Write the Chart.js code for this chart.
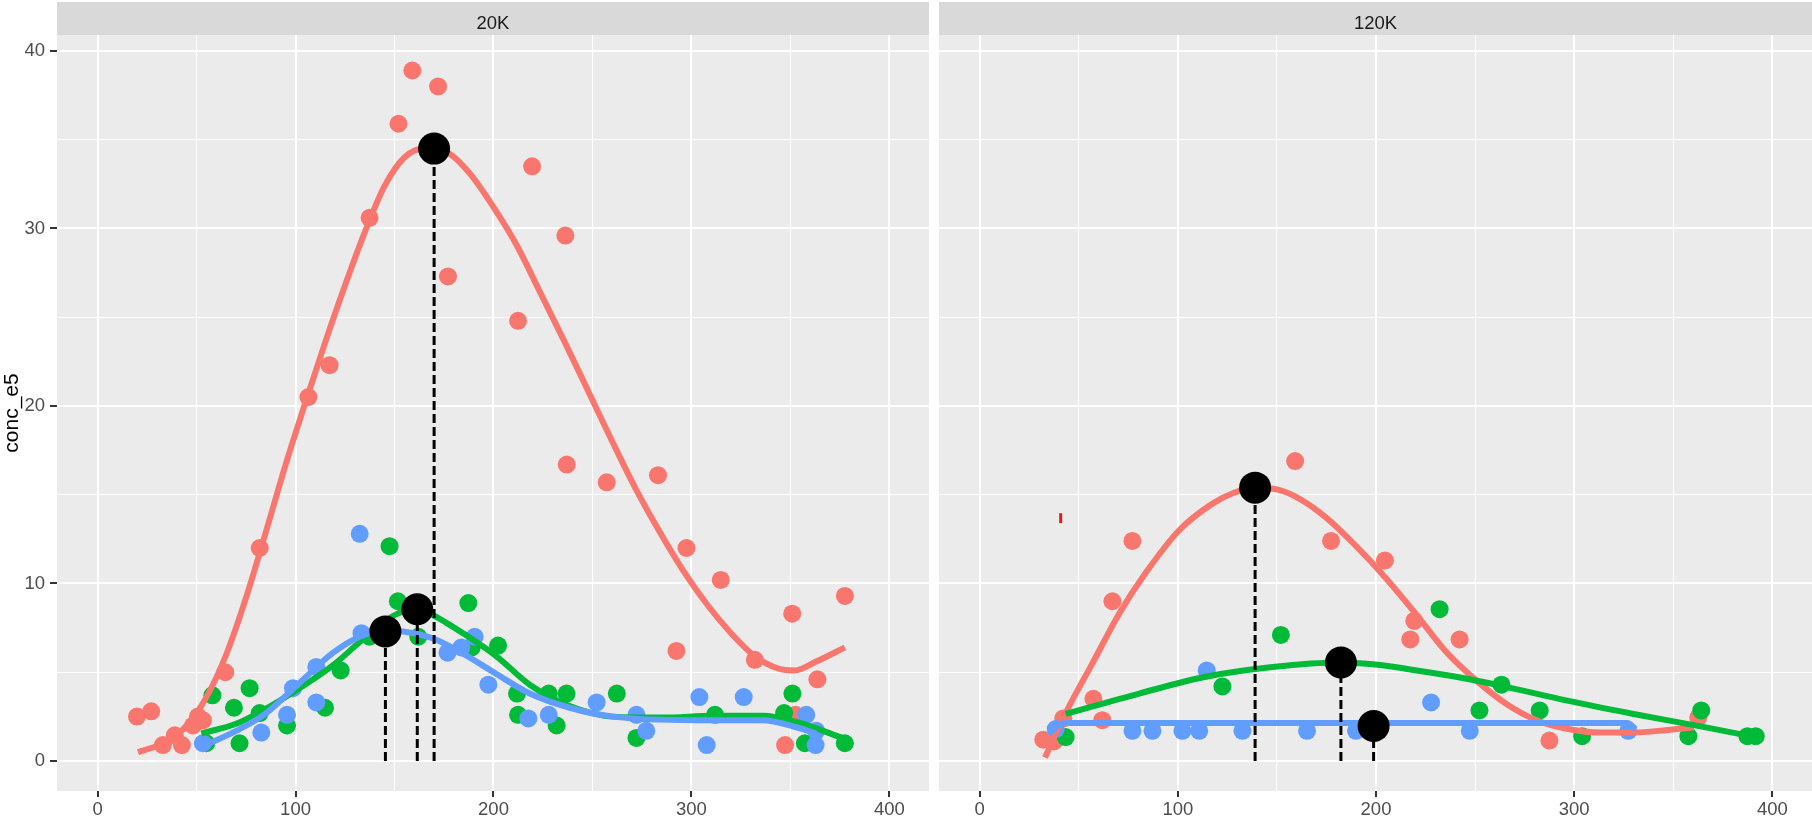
<!DOCTYPE html>
<html>
<head>
<meta charset="utf-8">
<script src="https://cdn.jsdelivr.net/npm/chart.js@4.4.1/dist/chart.umd.min.js"></script>
<style>
  body { margin: 0; background: #fff; }
  canvas { position: absolute; top: 0; }
  #left { left: 0; }
  #right { left: 939px; }
</style>
</head>
<body>
<canvas id="left" width="929" height="829" style="width:929px;height:829px"></canvas>
<canvas id="right" width="873" height="829" style="width:873px;height:829px"></canvas>
<script>
// facets and axis ticks
const panels = ['20K', '120K'];
const xMajor = [0, 100, 200, 300, 400];
const xMinor = [50, 150, 250, 350];
const yMajor = [0, 10, 20, 30, 40];
const yMinor = [5, 15, 25, 35];

// raw points, 20K panel  [x, conc_e5]
const red20K = [[19.9,2.5],[27.1,2.8],[33,0.9],[39,1.45],[42.6,0.9],[48.2,2.0],[50.7,2.5],[53.2,2.3],[64.5,5.0],[81.9,12.0],[106.5,20.5],[117.2,22.3],[137.4,30.6],[152,35.9],[159,38.9],[172,38.0],[177,27.3],[212.4,24.8],[219.5,33.5],[236.3,29.6],[237,16.7],[257.2,15.7],[283.1,16.1],[292.4,6.2],[297.5,12.0],[314.8,10.2],[332,5.7],[347.3,0.9],[350.9,8.3],[352.5,2.6],[363.6,4.6],[377.5,9.3]];
const green20K = [[54.9,1.0],[58,3.7],[68.9,3.0],[71.7,1.0],[76.8,4.1],[81.9,2.7],[95.7,2.0],[114.9,3.0],[122.8,5.1],[137.4,7.0],[147.5,12.1],[151.7,9.0],[162,7.0],[187.3,8.9],[189,6.4],[202.3,6.5],[211.9,3.8],[212.4,2.6],[227.9,3.8],[231.9,2.0],[236.9,3.8],[262.3,3.8],[272.2,1.3],[311.9,2.6],[346.8,2.7],[351,3.8],[357.3,1.0],[377.5,1.0]];
const blue20K = [[53.2,1.0],[82.7,1.6],[95.7,2.6],[98.7,4.1],[110.5,5.3],[110.5,3.3],[132.4,12.8],[133.3,7.2],[176.8,6.1],[183.8,6.4],[190.5,7.0],[197.4,4.3],[217.6,2.4],[227.9,2.6],[252.1,3.3],[272.2,2.6],[277.2,1.7],[304,3.6],[307.7,0.9],[326.4,3.6],[358,2.6],[362.7,0.9],[363,1.7]];

// smooth fits, 20K panel
const redFit20K = [[20.4,0.5],[35,1.1],[45,2.0],[55,3.6],[65,6.0],[75,9.2],[85,12.9],[95,16.7],[105,20.2],[115,23.6],[125,26.8],[135,29.8],[145,32.4],[155,34.0],[165,34.5],[170,34.5],[178,34.2],[188,33.1],[200,31.2],[212,29.0],[224,26.3],[236,23.6],[248,20.8],[260,18.0],[272,15.3],[284,12.9],[296,10.7],[308,8.8],[320,7.2],[332,5.9],[344,5.2],[352,5.1],[363,5.6],[377.5,6.4]];
const greenFit20K = [[52.4,1.55],[70,2.1],[83.5,2.85],[102,4.1],[119,5.4],[132.4,6.7],[144.2,7.8],[152.6,8.35],[161.5,8.55],[168,8.3],[176,7.8],[184.6,7.2],[201.5,5.9],[218.3,4.3],[238.5,3.1],[260.4,2.5],[285.7,2.45],[311,2.55],[336,2.55],[353,2.2],[377.5,1.25]];
const blueFit20K = [[52.4,0.8],[70,1.7],[85.2,2.7],[102,4.4],[119,6.1],[132.4,7.0],[145.4,7.35],[154.3,7.3],[169.5,6.9],[184.6,6.05],[201.5,4.9],[218.3,3.8],[238.5,3.0],[260.4,2.5],[302.5,2.3],[336,2.3],[353,1.9],[363,1.55]];
const peaks20K = [[145.4,7.3],[161.5,8.55],[170,34.5]];

// raw points, 120K panel
const red120K = [[32.1,1.2],[37.5,1.1],[42.2,2.4],[57.4,3.5],[61.9,2.3],[67,9.0],[77.1,12.4],[159.2,16.9],[177.3,12.4],[204.5,11.3],[217.3,6.85],[219.3,7.9],[242.2,6.85],[287.5,1.15],[362.6,2.45]];
const green120K = [[43.4,1.35],[122.5,4.2],[152,7.1],[232.1,8.55],[252.2,2.85],[263.3,4.3],[282.6,2.85],[304,1.4],[357.6,1.4],[364.1,2.85],[387.4,1.4],[391.6,1.4]];
const blue120K = [[38.4,1.8],[77.1,1.7],[87.2,1.7],[102.3,1.7],[110.8,1.7],[114.6,5.1],[132.6,1.7],[165.2,1.7],[189.9,1.7],[227.8,3.3],[247.3,1.7],[327.3,1.7]];

// smooth fits, 120K panel
const redFit120K = [[33,0.2],[43.4,2.7],[56.9,5.5],[70.4,8.3],[83.8,10.6],[100.7,13.0],[117.5,14.5],[128,15.1],[139,15.4],[150,15.3],[161,14.8],[175,13.7],[190,12.1],[205,10.3],[220,8.3],[235,6.2],[251,4.5],[266,3.2],[281,2.3],[297,1.8],[313,1.6],[330,1.6],[347,1.75],[360.4,1.9]];
const greenFit120K = [[43.4,2.65],[80.5,3.8],[114,4.75],[147.8,5.3],[182.3,5.55],[198.3,5.45],[215,5.2],[237.5,4.8],[262.8,4.25],[296.5,3.4],[330,2.65],[363.8,1.95],[389,1.4]];
const blueFit120K = [[36.7,1.7],[40,2.05],[44,2.14],[100,2.14],[200,2.14],[326.8,2.14],[331,1.8]];
const peaks120K = [[139,15.4],[182.3,5.55],[198.8,1.97]];
const stray120K = [[40.9,13.4],[40.9,13.96]];

const RED = '#F8766D', GREEN = '#00BA38', BLUE = '#619CFF';
const FONT = "'Liberation Sans', Arial, sans-serif";
Chart.defaults.font.family = FONT;

function pts(arr) {
    return arr.map(p => ({ x: p[0], y: p[1] }));
}

function buildDatasets(raw, fits, peaks) {
    const cols = [RED, GREEN, BLUE];
    const ds = [];
    raw.forEach((d, i) => {
        ds.push({ data: pts(d), showLine: false, backgroundColor: cols[i], pointRadius: 9, pointBorderWidth: 0, order: 12 - i });
    });
    fits.forEach((d, i) => {
        ds.push({ data: pts(d), showLine: true, borderColor: cols[i], borderWidth: 6, pointRadius: 0, cubicInterpolationMode: 'monotone', order: 9 - i });
    });
    peaks.forEach(p => {
        ds.push({ data: [{ x: p[0], y: 0 }, { x: p[0], y: p[1] }], showLine: true, borderColor: '#000', borderWidth: 3, borderDash: [9, 4], pointRadius: 0, order: 5 });
    });
    ds.push({ data: pts(peaks), showLine: false, backgroundColor: '#000', pointRadius: 16, pointBorderWidth: 0, order: 4 });
    return ds;
}

// grey panel background and facet strip
const facetPlugin = {
    id: 'facet',
    beforeDraw(chart, args, opts) {
        const { ctx, chartArea: a } = chart;
        ctx.save();
        ctx.fillStyle = '#EBEBEB';
        ctx.fillRect(a.left, a.top, a.right - a.left, a.bottom - a.top);
        ctx.fillStyle = '#D9D9D9';
        ctx.fillRect(a.left, 2, a.right - a.left, a.top - 2);
        ctx.fillStyle = '#1A1A1A';
        ctx.font = '18.5px ' + FONT;
        ctx.textAlign = 'center';
        ctx.textBaseline = 'alphabetic';
        ctx.fillText(opts.label, (a.left + a.right) / 2, 29);
        ctx.restore();
    }
};

function makeOptions(label, showY) {
    return {
        responsive: false,
        animation: false,
        events: [],
        layout: { autoPadding: false, padding: { top: 35, left: 0, right: 0, bottom: 0 } },
        plugins: { legend: { display: false }, tooltip: { enabled: false }, facet: { label: label } },
        scales: {
            x: {
                type: 'linear', min: -20.5, max: 420,
                afterBuildTicks: s => { s.ticks = xMajor.concat(xMinor).sort((a, b) => a - b).map(v => ({ value: v })); },
                afterFit: s => { s.height = 38; },
                border: { display: false },
                grid: {
                    color: '#FFFFFF',
                    lineWidth: c => xMajor.includes(c.tick.value) ? 2 : 1,
                    tickColor: c => xMajor.includes(c.tick.value) ? '#333333' : 'rgba(0,0,0,0)',
                    tickLength: 6, tickWidth: 2
                },
                ticks: {
                    autoSkip: false, maxRotation: 0, padding: 2, color: '#4D4D4D', font: { size: 18.5 },
                    callback: v => xMajor.includes(v) ? String(v) : ''
                }
            },
            y: {
                type: 'linear', min: -1.69, max: 40.9,
                afterBuildTicks: s => { s.ticks = yMajor.concat(yMinor).sort((a, b) => a - b).map(v => ({ value: v })); },
                afterFit: s => { s.width = showY ? 57 : 0; },
                border: { display: false },
                grid: {
                    color: '#FFFFFF',
                    lineWidth: c => yMajor.includes(c.tick.value) ? 2 : 1,
                    drawTicks: showY,
                    tickColor: c => yMajor.includes(c.tick.value) ? '#333333' : 'rgba(0,0,0,0)',
                    tickLength: 7, tickWidth: 2
                },
                ticks: {
                    display: showY, autoSkip: false, padding: 5, color: '#4D4D4D', font: { size: 18.5 },
                    callback: v => yMajor.includes(v) ? String(v) : ''
                },
                title: { display: showY, text: 'conc_e5', color: '#000', font: { size: 21 }, padding: { top: 0, bottom: 0 } }
            }
        }
    };
}

new Chart(document.getElementById('left'), {
    type: 'scatter',
    data: { datasets: buildDatasets([red20K, green20K, blue20K], [redFit20K, greenFit20K, blueFit20K], peaks20K) },
    options: makeOptions(panels[0], true),
    plugins: [facetPlugin]
});

const rightSets = buildDatasets([red120K, green120K, blue120K], [redFit120K, greenFit120K, blueFit120K], peaks120K);
rightSets.push({ data: pts(stray120K), showLine: true, borderColor: '#E3191C', borderWidth: 3, pointRadius: 0, order: 3 });

new Chart(document.getElementById('right'), {
    type: 'scatter',
    data: { datasets: rightSets },
    options: makeOptions(panels[1], false),
    plugins: [facetPlugin]
});
</script>
</body>
</html>
